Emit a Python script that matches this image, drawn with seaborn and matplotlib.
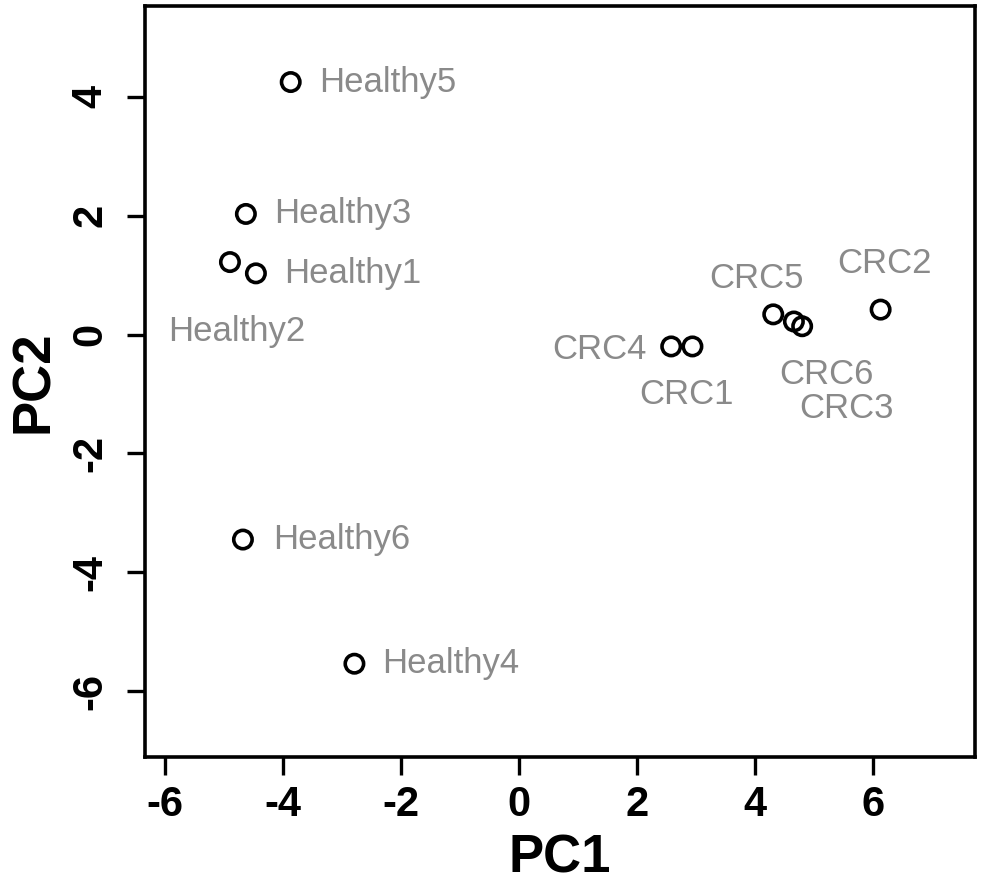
import matplotlib
matplotlib.use("Agg")
import matplotlib.pyplot as plt
import seaborn as sns
import pandas as pd

samples = ["Healthy1", "Healthy2", "Healthy3", "Healthy4", "Healthy5", "Healthy6",
           "CRC1", "CRC2", "CRC3", "CRC4", "CRC5", "CRC6"]
pc1 = [-4.46, -4.90, -4.63, -2.79, -3.87, -4.68, 2.94, 6.13, 4.80, 2.58, 4.31, 4.66]
pc2 = [1.03, 1.22, 2.03, -5.54, 4.25, -3.45, -0.20, 0.42, 0.14, -0.20, 0.34, 0.22]
x_ticks = [-6, -4, -2, 0, 2, 4, 6]
y_ticks = [-6, -4, -2, 0, 2, 4]

# label offsets in pixels (dx, dy) and horizontal alignment
label_offsets = {
    "Healthy1": (28, 0, "left"), "Healthy2": (7, -69, "center"),
    "Healthy3": (28, 0, "left"), "Healthy4": (28, 0, "left"),
    "Healthy5": (28, 0, "left"), "Healthy6": (30, 0, "left"),
    "CRC1": (-6, -48, "center"), "CRC2": (4, 46, "center"),
    "CRC3": (44, -82, "center"), "CRC4": (-25, -3, "right"),
    "CRC5": (-17, 36, "center"), "CRC6": (33, -53, "center"),
}

df = pd.DataFrame({"sample": samples, "PC1": pc1, "PC2": pc2})

sns.set_style("white")
plt.rcParams["font.family"] = ["Liberation Sans", "DejaVu Sans"]
plt.rcParams["axes.unicode_minus"] = False

fig = plt.figure(figsize=(9.83, 8.88), dpi=100)
ax = fig.add_axes([145 / 983, 131 / 888, 830 / 983, 751 / 888])

sns.scatterplot(data=df, x="PC1", y="PC2", ax=ax, marker="o", s=175,
                facecolor="none", edgecolor="black", linewidth=2.6, zorder=3)

for name, x, y in zip(samples, pc1, pc2):
    dx, dy, ha = label_offsets[name]
    ax.annotate(name, (x, y), xytext=(dx, dy), textcoords="offset pixels",
                ha=ha, va="center", fontsize=25, color="#8a8a8a")

ax.set_xlim(-6.34, 7.73)
ax.set_ylim(-7.11, 5.53)
ax.set_xticks(x_ticks)
ax.set_yticks(y_ticks)
ax.set_xticklabels([str(t) for t in x_ticks])
ax.set_yticklabels([str(t) for t in y_ticks], rotation=90, va="center")
ax.tick_params(axis="both", which="both", bottom=True, left=True,
               direction="out", length=13, width=2.4,
               labelsize=30, colors="black")
ax.tick_params(axis="x", pad=7)
ax.tick_params(axis="y", pad=12)
for lab in ax.get_xticklabels() + ax.get_yticklabels():
    lab.set_fontweight("bold")

for sp in ax.spines.values():
    sp.set_linewidth(2.6)
    sp.set_color("black")

ax.set_xlabel("PC1", fontsize=38, fontweight="bold", labelpad=6, color="black")
ax.set_ylabel("PC2", fontsize=38, fontweight="bold", labelpad=8, color="black")

fig.savefig("out.png", dpi=100)
